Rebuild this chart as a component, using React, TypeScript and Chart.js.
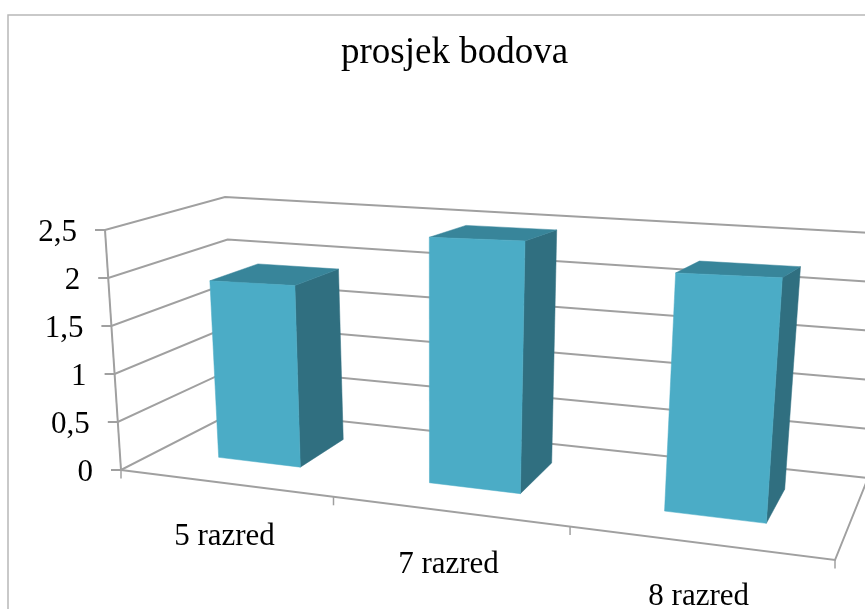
import React, { useEffect, useRef } from "react";
import { Chart, registerables } from "chart.js";

Chart.register(...registerables);

const categories = ["5 razred", "7 razred", "8 razred"];
const seriesName = "prosjek bodova";
const values = [1.87, 2.42, 2.18];
const yMax = 2.5;
const yStep = 0.5;

const FRONT = "#4BACC6";
const TOP = "#38859A";
const SIDE = "#306F80";
const LINE = "#a0a0a0";
const FONT = "'Liberation Serif', serif";

type P = [number, number];
// the eight corners of the plot box as seen in perspective
const box = {
  ffl: [121, 470] as P, ffr: [835, 560] as P,
  ftl: [105, 230] as P, ftr: [858, 250] as P,
  bfl: [238, 410] as P, bfr: [868, 478] as P,
  btl: [225, 197] as P, btr: [890, 234] as P,
};
const barDepth: [number, number] = [0.33, 0.76];
const foreshorten = 1.18;

const mix = (a: P, b: P, t: number): P => [a[0] + (b[0] - a[0]) * t, a[1] + (b[1] - a[1]) * t];
const project = (s: number, v: number, d: number): P => {
  const f = s / (foreshorten - (foreshorten - 1) * s);
  const ff = mix(box.ffl, box.ffr, f);
  const ft = mix(box.ftl, box.ftr, f);
  const bf = mix(box.bfl, box.bfr, f);
  const bt = mix(box.btl, box.btr, f);
  return mix(mix(ff, ft, v), mix(bf, bt, v), d);
};

const poly = (ctx: CanvasRenderingContext2D, pts: P[], fill?: string) => {
  ctx.beginPath();
  pts.forEach((p, i) => (i ? ctx.lineTo(p[0], p[1]) : ctx.moveTo(p[0], p[1])));
  if (fill) {
    ctx.closePath();
    ctx.fillStyle = fill;
    ctx.fill();
    ctx.strokeStyle = fill;
    ctx.lineWidth = 0.5;
    ctx.stroke();
  } else {
    ctx.stroke();
  }
};

const perspective = {
  id: "perspective",
  beforeDatasetsDraw(chart: any) {
    const { ctx, chartArea: a, scales } = chart;
    const sOf = (px: number) => (px - a.left) / (a.right - a.left);
    const vOf = (py: number) => (a.bottom - py) / (a.bottom - a.top);
    ctx.save();

    // chart frame
    ctx.strokeStyle = "#b8b8b8";
    ctx.lineWidth = 1.5;
    ctx.strokeRect(8, 15, chart.width - 9, chart.height - 16);

    ctx.lineCap = "butt";
    ctx.strokeStyle = LINE;
    ctx.lineWidth = 2;

    // walls and value ticks
    const yTicks = scales.y.ticks;
    yTicks.forEach((t: any) => {
      const v = vOf(scales.y.getPixelForValue(t.value));
      const p0 = project(0, v, 0);
      const p1 = project(0, v, 1);
      const p2 = project(1, v, 1);
      poly(ctx, [[p0[0] - 10, p0[1]], p0, p1, p2]);
    });
    poly(ctx, [project(0, 0, 0), project(0, 1, 0)]);

    // floor edges and category ticks
    poly(ctx, [project(0, 0, 0), project(1, 0, 0), project(1, 0, 1)]);
    ctx.lineWidth = 1.5;
    for (let i = 0; i <= categories.length; i++) {
      const p = project(i / categories.length, 0, 0);
      poly(ctx, [p, [p[0], p[1] + 8.5]]);
    }

    // bars
    const meta = chart.getDatasetMeta(0);
    meta.data.forEach((el: any) => {
      const s0 = sOf(el.x - el.width / 2);
      const s1 = sOf(el.x + el.width / 2);
      const v = vOf(el.y);
      const [d0, d1] = barDepth;
      poly(ctx, [project(s1, 0, d0), project(s1, 0, d1), project(s1, v, d1), project(s1, v, d0)], SIDE);
      poly(ctx, [project(s0, v, d0), project(s0, v, d1), project(s1, v, d1), project(s1, v, d0)], TOP);
      poly(ctx, [project(s0, 0, d0), project(s1, 0, d0), project(s1, v, d0), project(s0, v, d0)], FRONT);
    });

    // labels
    ctx.fillStyle = "#000";
    ctx.font = `31px ${FONT}`;
    ctx.textBaseline = "middle";
    ctx.textAlign = "right";
    yTicks.forEach((t: any) => {
      const v = vOf(scales.y.getPixelForValue(t.value));
      const p = project(0, v, 0);
      ctx.fillText(String(t.value).replace(".", ","), p[0] - 28, p[1] + 3);
    });
    ctx.textAlign = "center";
    categories.forEach((c, i) => {
      const p = project(sOf(scales.x.getPixelForValue(i)), 0, 0);
      ctx.fillText(c, p[0], p[1] + 54);
    });

    ctx.restore();
    return false;
  },
};

export default function App() {
  const ref = useRef<HTMLCanvasElement>(null);
  useEffect(() => {
    const chart = new Chart(ref.current!, {
      type: "bar",
      data: {
        labels: categories,
        datasets: [{ label: seriesName, data: values, backgroundColor: FRONT, barPercentage: 0.4, categoryPercentage: 1 }],
      },
      options: {
        responsive: false,
        animation: false,
        plugins: {
          legend: { display: false },
          tooltip: { enabled: false },
          title: {
            display: true,
            text: seriesName,
            color: "#000",
            font: { family: "'Liberation Serif', serif", size: 37, weight: "normal" },
            padding: { top: 31, bottom: 10 },
          },
        },
        scales: {
          x: { display: false },
          y: { display: false, min: 0, max: yMax, ticks: { stepSize: yStep } },
        },
      },
      plugins: [perspective],
    } as any);
    return () => chart.destroy();
  }, []);
  return (
    <div style={{ position: "fixed", left: 0, top: 0, width: 865, height: 609, overflow: "hidden", background: "#fff" }}>
      <canvas ref={ref} width={909} height={640} style={{ display: "block" }} />
    </div>
  );
}
